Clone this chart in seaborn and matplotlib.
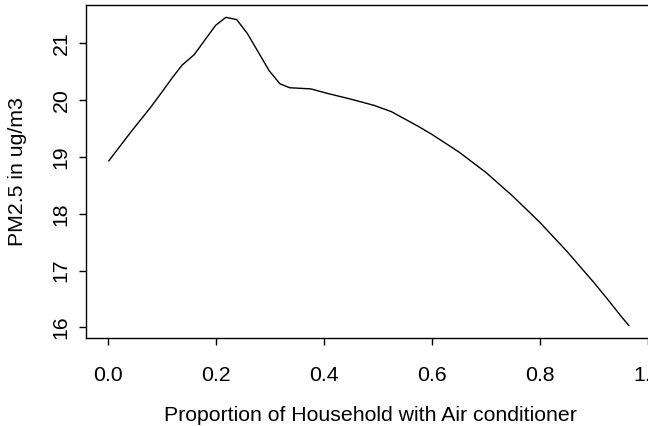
import numpy as np
import pandas as pd
import matplotlib
matplotlib.use("Agg")
import matplotlib.pyplot as plt
import seaborn as sns

# Fitted PM2.5 concentration against share of households with air conditioning
ac_share = [0.002, 0.043, 0.080, 0.101, 0.120, 0.138, 0.160, 0.200, 0.219,
            0.239, 0.259, 0.299, 0.319, 0.337, 0.376, 0.407, 0.450, 0.493,
            0.525, 0.550, 0.575, 0.600, 0.650, 0.700, 0.750, 0.800, 0.850,
            0.900, 0.925, 0.950, 0.965]
pm25 = [18.93, 19.44, 19.88, 20.15, 20.40, 20.62, 20.80, 21.32, 21.46,
        21.42, 21.17, 20.52, 20.29, 20.22, 20.20, 20.12, 20.02, 19.91,
        19.80, 19.67, 19.54, 19.40, 19.09, 18.73, 18.31, 17.85, 17.34,
        16.79, 16.50, 16.20, 16.03]
x_ticks = [0.0, 0.2, 0.4, 0.6, 0.8, 1.0]
y_ticks = [16, 17, 18, 19, 20, 21]

df = pd.DataFrame({"ac": ac_share, "pm": pm25})

sns.set_theme(style="white")
plt.rcParams["font.family"] = ["Liberation Sans", "DejaVu Sans"]

W, H, DPI = 648, 426, 100
fig = plt.figure(figsize=(W / DPI, H / DPI), dpi=DPI)

# plot region in pixels (the right side runs past the figure edge)
left, right, top, bottom = 86.0, 669.5, 5.0, 338.0
ax = fig.add_axes([left / W, (H - bottom) / H, (right - left) / W, (bottom - top) / H])

sns.lineplot(data=df, x="ac", y="pm", ax=ax, sort=False, color="black",
             linewidth=1.0, estimator=None)

ax.set_xlim(-0.04, 1.04)
ymin, ymax = min(pm25), max(pm25)
pad = 0.04 * (ymax - ymin)
ax.set_ylim(ymin - pad, ymax + pad)

ax.set_xticks(x_ticks)
ax.set_xticklabels([f"{v:.1f}" for v in x_ticks])
ax.set_yticks(y_ticks)
ax.set_yticklabels([str(v) for v in y_ticks])

for s in ax.spines.values():
    s.set_visible(True)
    s.set_color("black")
    s.set_linewidth(1.0)

fs = 15.3
ax.tick_params(axis="both", which="major", direction="out", length=5,
               width=1.0, color="black", labelsize=fs, labelcolor="black",
               bottom=True, left=True)
ax.tick_params(axis="x", pad=15.5)
ax.tick_params(axis="y", pad=6.0, labelrotation=90)
for lab in ax.get_yticklabels():
    lab.set_verticalalignment("center")

ax.set_xlabel("Proportion of Household with Air conditioner", fontsize=fs, color="black")
ax.set_ylabel("PM2.5 in ug/m3", fontsize=fs, color="black")
ax.xaxis.set_label_coords(370 / W, (H - 406) / H, transform=fig.transFigure)
ax.yaxis.set_label_coords(27 / W, (H - 171.5) / H, transform=fig.transFigure)
ax.grid(False)

fig.savefig("out.png", dpi=DPI)
